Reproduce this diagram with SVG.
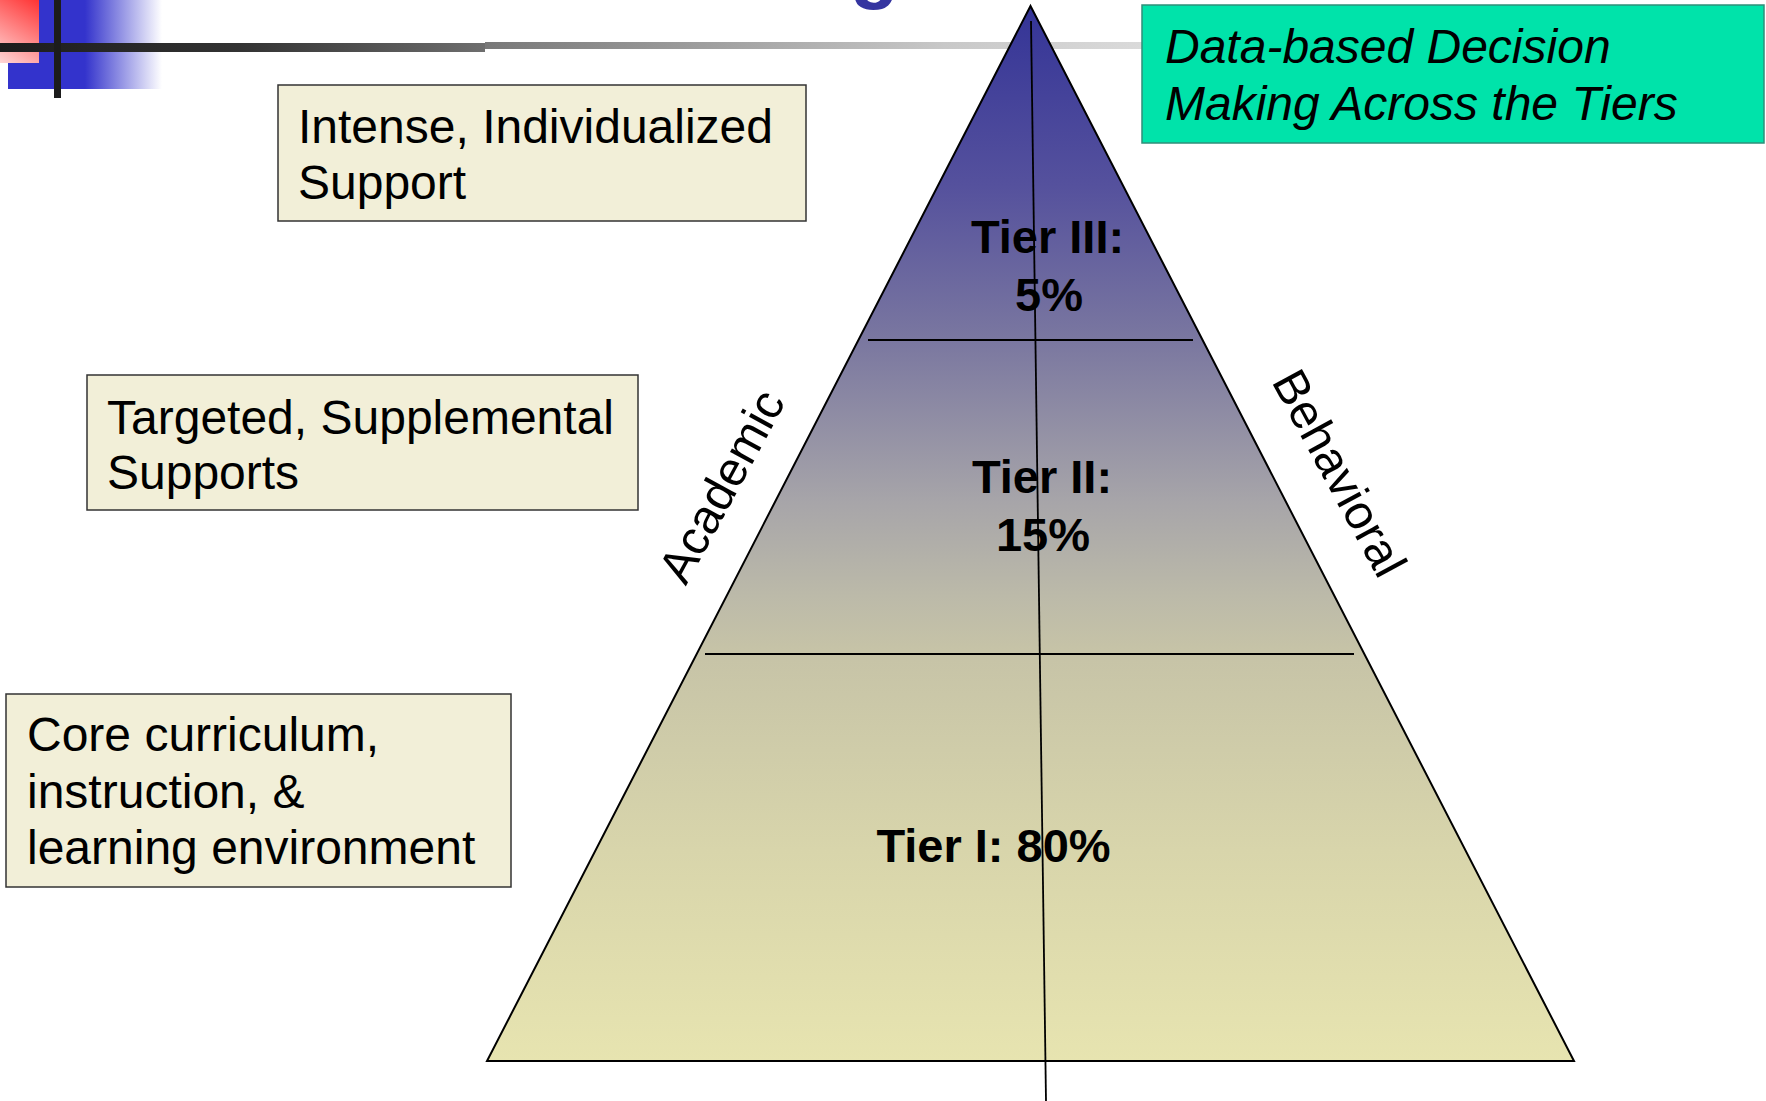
<svg xmlns="http://www.w3.org/2000/svg" width="1766" height="1101" viewBox="0 0 1766 1101">
<defs>
  <linearGradient id="blueFade" x1="8" y1="0" x2="162" y2="0" gradientUnits="userSpaceOnUse">
    <stop offset="0" stop-color="#3333cc"/>
    <stop offset="0.5" stop-color="#3333cc"/>
    <stop offset="1" stop-color="#3333cc" stop-opacity="0"/>
  </linearGradient>
  <linearGradient id="redFade" x1="39" y1="0" x2="0" y2="63" gradientUnits="userSpaceOnUse">
    <stop offset="0" stop-color="#ff3333"/>
    <stop offset="1" stop-color="#ffd6d6"/>
  </linearGradient>
  <linearGradient id="barDark" x1="0" y1="0" x2="485" y2="0" gradientUnits="userSpaceOnUse">
    <stop offset="0" stop-color="#1c1c1c"/>
    <stop offset="0.5" stop-color="#333333"/>
    <stop offset="1" stop-color="#6e6e6e"/>
  </linearGradient>
  <linearGradient id="barLight" x1="485" y1="0" x2="1142" y2="0" gradientUnits="userSpaceOnUse">
    <stop offset="0" stop-color="#787878"/>
    <stop offset="0.7" stop-color="#c8c8c8"/>
    <stop offset="1" stop-color="#dadada"/>
  </linearGradient>
  <linearGradient id="pyr" x1="0" y1="6" x2="0" y2="1061" gradientUnits="userSpaceOnUse">
    <stop offset="0" stop-color="#343497"/>
    <stop offset="0.17" stop-color="#55519d"/>
    <stop offset="0.32" stop-color="#7b78a0"/>
    <stop offset="0.47" stop-color="#a7a5a9"/>
    <stop offset="0.56" stop-color="#bcbaa9"/>
    <stop offset="0.61" stop-color="#c6c3a7"/>
    <stop offset="0.8" stop-color="#d8d5ab"/>
    <stop offset="1" stop-color="#e7e4b0"/>
  </linearGradient>
</defs>
<style>
  .box { fill: #f2efd8; stroke: #333333; stroke-width: 1.5; }
  .lbl { font-family: "Liberation Sans", Arial, sans-serif; font-size: 48px; fill: #000000; }
  .tier { font-family: "Liberation Sans", Arial, sans-serif; font-size: 47px; font-weight: bold; fill: #000000; text-anchor: middle; }
  .side { font-family: "Liberation Sans", Arial, sans-serif; font-size: 48px; fill: #000000; text-anchor: middle; }
  .ln { stroke: #000000; stroke-width: 1.8; fill: none; }
</style>

<g id="decoration">
  <rect x="8" y="0" width="154" height="89" fill="url(#blueFade)"/>
  <rect x="0" y="0" width="39" height="63" fill="url(#redFade)"/>
  <rect x="0" y="43" width="485" height="9" fill="url(#barDark)"/>
  <rect x="485" y="42" width="657" height="7" fill="url(#barLight)"/>
  <rect x="54" y="0" width="7" height="98" fill="#1c1c1c"/>
  <text x="850" y="-7" font-family="Liberation Sans, Arial, sans-serif" font-weight="bold" font-size="80" fill="#3535a0">g</text>
</g>

<g id="pyramid">
  <polygon points="1030.5,6 1574,1061 487,1061" fill="url(#pyr)" stroke="#000000" stroke-width="2" stroke-linejoin="miter"/>
</g>

<g id="connectors">
  <line class="ln" x1="868" y1="340" x2="1193" y2="340"/>
  <line class="ln" x1="705" y1="654" x2="1354" y2="654"/>
  <line class="ln" x1="1031" y1="21" x2="1046" y2="1101"/>
</g>

<g id="tier3">
  <text class="tier" x="1047.5" y="253">Tier III:</text>
  <text class="tier" x="1049" y="311">5%</text>
</g>
<g id="tier2">
  <text class="tier" x="1042" y="493">Tier II:</text>
  <text class="tier" x="1043" y="551">15%</text>
</g>
<g id="tier1">
  <text class="tier" x="993.5" y="862">Tier I: 80%</text>
</g>

<g id="academic">
  <text class="side" transform="translate(736,494) rotate(-61.5)">Academic</text>
</g>
<g id="behavioral">
  <text class="side" transform="translate(1325,481) rotate(61.5)">Behavioral</text>
</g>

<g id="box-intense">
  <rect class="box" x="278" y="85" width="528" height="136"/>
  <text class="lbl" x="298" y="143">Intense, Individualized</text>
  <text class="lbl" x="298" y="199">Support</text>
</g>

<g id="box-targeted">
  <rect class="box" x="87" y="375" width="551" height="135"/>
  <text class="lbl" x="107" y="434">Targeted, Supplemental</text>
  <text class="lbl" x="107" y="489">Supports</text>
</g>

<g id="box-core">
  <rect class="box" x="6" y="694" width="505" height="193"/>
  <text class="lbl" x="27" y="751">Core curriculum,</text>
  <text class="lbl" x="27" y="808">instruction, &amp;</text>
  <text class="lbl" x="27" y="864">learning environment</text>
</g>

<g id="box-data">
  <rect x="1142" y="5" width="622" height="138" fill="#00e3aa" stroke="#2f8f7a" stroke-width="1.5"/>
  <text class="lbl" x="1165" y="63" font-style="italic">Data-based Decision</text>
  <text class="lbl" x="1165" y="120" font-style="italic">Making Across the Tiers</text>
</g>
</svg>
